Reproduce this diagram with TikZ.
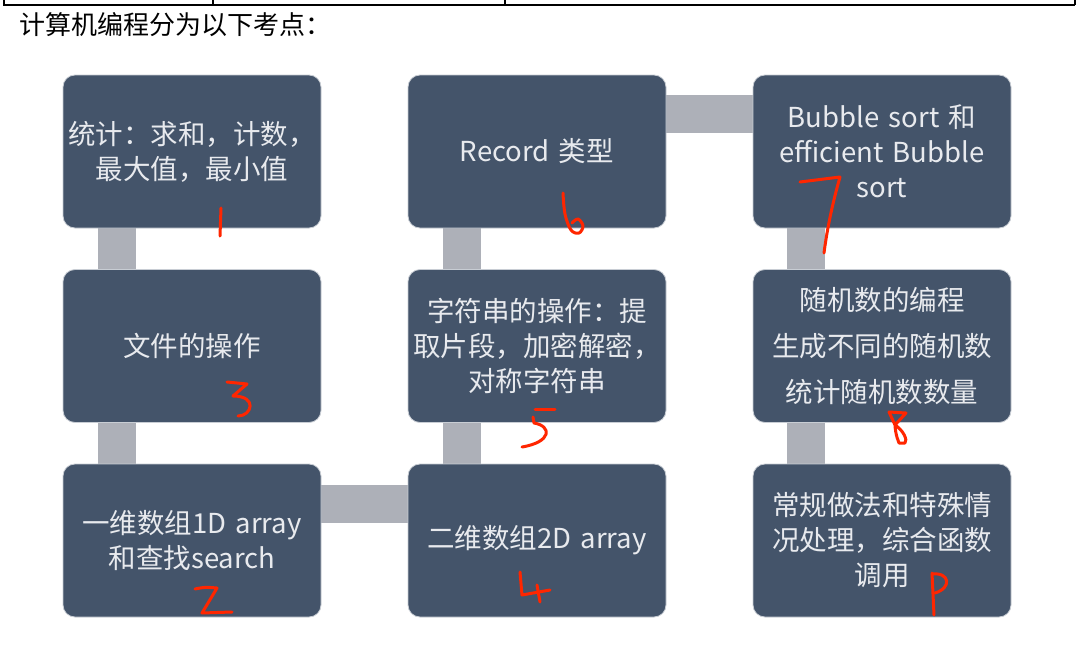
\documentclass[tikz,border=0pt]{standalone}
\usepackage{fontspec}
\newfontfamily\cjk{Noto Sans CJK SC}
\usetikzlibrary{backgrounds}
\definecolor{boxfill}{RGB}{68,84,106}
\definecolor{boxline}{RGB}{200,205,212}
\definecolor{barc}{RGB}{173,176,184}
\definecolor{txtc}{RGB}{232,234,238}
\definecolor{penc}{RGB}{255,38,0}
\begin{document}
\begin{tikzpicture}[x=1pt,y=-1pt,
  card/.style={rectangle, rounded corners=12pt, fill=boxfill, draw=boxline, line width=0.8pt,
    minimum width=258pt, minimum height=153pt, text width=256pt, inner sep=1pt,
    align=center, text=txtc, font=\cjk\fontsize{27.5}{35}\selectfont},
  bar/.style={draw=barc, line width=38pt},
  pen/.style={draw=penc, line width=3pt, line cap=round, line join=round},
  rule/.style={draw=black, line width=1.5pt}]
\useasboundingbox (0,0) rectangle (1080,651);

% table rule at top
\draw[rule] (3,5) -- (1075,5);
\draw[rule] (4,0) -- (4,5);
\draw[rule] (213,0) -- (213,5);
\draw[rule] (505,0) -- (505,5);
\draw[rule] (1075,0) -- (1075,5);

% title
\node[anchor=west, inner sep=0pt, font=\cjk\fontsize{26}{26}\selectfont] (title) at (19,25) {计算机编程分为以下考点：};

% boxes
\node[card] (b1) at (192,151.5) {统计：求和，计数，\\最大值，最小值};
\node[card] (b6) at (537,151.5) {Record 类型};
\node[card] (b7) at (882,151.5) {Bubble sort 和\\efficient Bubble\\sort};
\node[card] (b3) at (192,346) {文件的操作};
\node[card] (b5) at (537,346) {字符串的操作：提\\取片段，加密解密，\\对称字符串};
\node[card, font=\cjk\fontsize{27.5}{46}\selectfont] (b8) at (882,346) {随机数的编程\\生成不同的随机数\\统计随机数数量};
\node[card] (b2) at (192,540.5) {一维数组1D array\\和查找search};
\node[card] (b4) at (537,540.5) {二维数组2D array};
\node[card] (b9) at (882,540.5) {常规做法和特殊情\\况处理，综合函数\\调用};

% connectors
\begin{scope}[on background layer]
\fill[white] (0,0) rectangle (1080,651);
\draw[bar] ([xshift=-75pt]b1.south) -- ([xshift=-75pt]b3.north);
\draw[bar] ([xshift=-75pt]b3.south) -- ([xshift=-75pt]b2.north);
\draw[bar] ([yshift=36.5pt]b2.east) -- ([yshift=36.5pt]b4.west);
\draw[bar] ([xshift=-75pt]b4.north) -- ([xshift=-75pt]b5.south);
\draw[bar] ([xshift=-75pt]b5.north) -- ([xshift=-75pt]b6.south);
\draw[bar] ([yshift=37.5pt]b6.east) -- ([yshift=37.5pt]b7.west);
\draw[bar] ([xshift=-76pt]b7.south) -- ([xshift=-76pt]b8.north);
\draw[bar] ([xshift=-76pt]b8.south) -- ([xshift=-76pt]b9.north);
\end{scope}

% handwritten numbers
% 1
\draw[pen] (221,208) -- (220,236);
% 6
\draw[pen] plot[smooth, tension=0.6] coordinates {(563,193) (565,214) (571,230) (579,233) (583,226) (578,219) (572,223)};
% 7
\draw[pen] (800,182) -- (840,177) .. controls (832,205) and (827,230) .. (824,253);
% 3
\draw[pen] (227,382) -- (247,384) -- (233,396) .. controls (258,396) and (252,416) .. (238,416);
% 5
\draw[pen] (535,409) -- (555,409);
\draw[pen] (533,417) -- (534,423) .. controls (552,426) and (552,442) .. (522,447);
% 2
\draw[pen] (195,589) .. controls (205,587) .. (217,588) -- (202,613) -- (232,612);
% 4
\draw[pen] (520,572) -- (522,595) -- (550,590);
\draw[pen] (537,585) -- (540,602);
% 8
\draw[pen] (889,412) -- (906,413) -- (895,425) .. controls (903,430) and (908,440) .. (905,443) -- (899,443) .. controls (896,436) and (895,428) .. (895,425) -- (889,412);
% 9
\draw[pen] (932,573) -- (934,615);
\draw[pen] (932,574) .. controls (950,572) and (952,588) .. (935,593);
\end{tikzpicture}
\end{document}
